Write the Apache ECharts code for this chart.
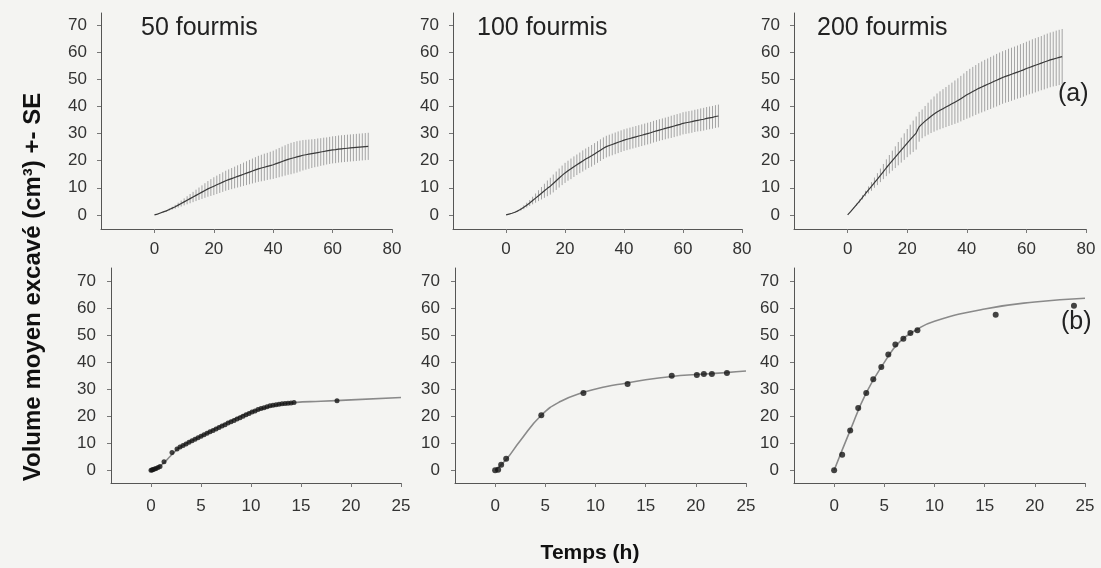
<!DOCTYPE html>
<html>
<head>
<meta charset="UTF-8">
<title>Volume excavé</title>
<script src="https://cdn.jsdelivr.net/npm/echarts@6/dist/echarts.min.js"></script>
<style>
html,body{margin:0;padding:0;background:#f4f4f2;}
#chart{width:1101px;height:568px;}
</style>
</head>
<body>
<div id="chart"></div>
<script type="text/javascript">
// panneaux du haut : moyenne +- SE, une valeur par heure
var hours = [0,1,2,3,4,5,6,7,8,9,10,11,12,13,14,15,16,17,18,19,20,21,22,23,24,25,26,27,28,29,30,31,32,33,34,35,36,37,38,39,40,41,42,43,44,45,46,47,48,49,50,51,52,53,54,55,56,57,58,59,60,61,62,63,64,65,66,67,68,69,70,71,72];

var mean50 = [0,0.3,0.7,1.1,1.5,2.0,2.5,3.0,3.6,4.2,4.8,5.4,6.0,6.6,7.2,7.8,8.4,9.0,9.6,10.1,10.6,11.1,11.6,12.1,12.6,13.0,13.4,13.8,14.2,14.6,15.0,15.4,15.8,16.2,16.6,17.0,17.3,17.6,17.9,18.2,18.5,18.9,19.3,19.7,20.1,20.5,20.8,21.1,21.4,21.7,22.0,22.2,22.4,22.6,22.8,23.0,23.2,23.4,23.6,23.8,24.0,24.1,24.3,24.4,24.5,24.6,24.7,24.8,24.9,25.0,25.1,25.2,25.3];
var se50 = [0,0,0.1,0.2,0.3,0.4,0.5,0.7,0.9,1.1,1.3,1.5,1.7,1.9,2.1,2.3,2.5,2.7,2.9,3.1,3.3,3.4,3.5,3.6,3.7,3.8,3.9,4.0,4.1,4.2,4.3,4.4,4.5,4.6,4.7,4.8,4.9,5.0,5.0,5.1,5.2,5.3,5.4,5.5,5.6,5.7,5.8,5.8,5.8,5.7,5.6,5.5,5.4,5.3,5.2,5.2,5.1,5.1,5.0,5.0,5.0,5.0,5.0,5.0,5.0,5.0,5.0,5.0,5.0,5.0,5.0,5.0,5.0];

var mean100 = [0,0.3,0.6,1.0,1.5,2.1,2.8,3.6,4.4,5.3,6.2,7.1,8.0,8.9,9.8,10.6,11.6,12.6,13.6,14.6,15.5,16.3,17.0,17.8,18.5,19.2,19.9,20.6,21.2,21.8,22.5,23.2,23.9,24.6,25.2,25.6,26.0,26.4,26.8,27.2,27.6,27.9,28.2,28.5,28.8,29.1,29.4,29.7,30.0,30.3,30.7,31.0,31.3,31.6,31.9,32.2,32.5,32.8,33.1,33.4,33.8,34.0,34.2,34.4,34.7,34.9,35.1,35.3,35.6,35.8,36.0,36.3,36.5];
var se100 = [0,0,0.1,0.2,0.3,0.5,0.7,0.9,1.1,1.4,1.7,2.0,2.3,2.6,2.9,3.1,3.3,3.4,3.5,3.6,3.7,3.7,3.8,3.8,3.8,3.8,3.9,3.9,3.9,4.0,4.0,4.0,4.0,4.0,4.0,4.0,4.0,4.0,4.0,4.0,4.0,4.0,4.0,4.0,4.0,4.0,4.0,4.0,4.0,4.0,4.0,4.0,4.0,4.0,4.0,4.0,4.1,4.1,4.1,4.1,4.1,4.1,4.1,4.1,4.1,4.1,4.2,4.2,4.2,4.2,4.2,4.2,4.2];

var mean200 = [0,1.2,2.5,3.8,5.1,6.5,7.9,9.2,10.5,11.9,13.2,14.6,16.0,17.4,18.7,20.0,21.3,22.6,23.9,25.2,26.5,27.8,29.0,30.2,32.5,33.6,34.6,35.5,36.4,37.2,38.0,38.6,39.2,39.8,40.4,41.0,41.6,42.2,42.9,43.6,44.3,44.9,45.5,46.1,46.7,47.2,47.7,48.2,48.7,49.2,49.7,50.2,50.7,51.1,51.5,51.9,52.3,52.7,53.1,53.5,54.0,54.4,54.8,55.2,55.6,56.0,56.4,56.8,57.2,57.5,57.8,58.1,58.4];
var se200 = [0,0.1,0.2,0.4,0.6,0.8,1.0,1.3,1.6,1.9,2.2,2.5,2.8,3.1,3.4,3.7,4.0,4.3,4.6,4.9,5.2,5.5,5.8,6.1,5.5,5.3,5.6,5.9,6.2,6.5,6.8,7.0,7.2,7.4,7.6,7.8,8.0,8.2,8.4,8.6,8.8,9.0,9.1,9.2,9.3,9.4,9.5,9.5,9.6,9.6,9.7,9.7,9.7,9.7,9.8,9.8,9.8,9.8,9.9,9.9,9.9,9.9,10.0,10.0,10.0,10.0,10.1,10.1,10.1,10.1,10.2,10.2,10.2];

// panneaux du bas : points observés (h, cm3) et courbe ajustée
var pts50 = [[0,0],[0.1,0.1],[0.2,0.3],[0.35,0.5],[0.5,0.7],[0.7,1.0],[0.9,1.4],[1.3,3.2],[2.1,6.6],[2.6,7.9],[2.9,8.6],[3.2,9.2],[3.5,9.8],[3.8,10.4],[4.1,11.0],[4.4,11.5],[4.7,12.1],[5.0,12.6],[5.3,13.2],[5.6,13.7],[5.9,14.3],[6.2,14.8],[6.5,15.3],[6.8,15.9],[7.1,16.4],[7.4,16.9],[7.7,17.5],[8.0,18.0],[8.3,18.5],[8.6,19.0],[8.9,19.5],[9.2,20.0],[9.5,20.6],[9.8,21.1],[10.1,21.6],[10.4,22.0],[10.7,22.5],[11.0,22.9],[11.3,23.2],[11.6,23.6],[11.9,23.9],[12.2,24.1],[12.5,24.3],[12.8,24.5],[13.1,24.7],[13.4,24.8],[13.7,24.9],[14.0,25.0],[14.3,25.1],[18.6,25.8]];
var fit50 = [[0,0],[1,1.8],[2,5.5],[3,8.8],[5,12.6],[7.5,17.4],[10,21.6],[12.5,24.2],[14.3,25.1],[17,25.6],[20,26.1],[25,27.0]];

var pts100 = [[0,0],[0.3,0.2],[0.6,2.1],[1.1,4.3],[4.6,20.4],[8.8,28.7],[13.2,32.0],[17.6,35.1],[20.1,35.3],[20.8,35.7],[21.6,35.7],[23.1,36.1]];
var fit100 = [[0,0],[1.1,4.0],[2.5,11.0],[4.6,20.4],[6.5,25.5],[8.8,28.9],[11,31.0],[13,32.3],[15,33.6],[17.6,34.8],[20,35.5],[23,36.2],[25,36.8]];

var pts200 = [[0,0],[0.8,5.8],[1.6,14.8],[2.4,23.1],[3.2,28.7],[3.9,33.8],[4.7,38.3],[5.4,42.9],[6.1,46.6],[6.9,48.8],[7.6,50.9],[8.3,51.9],[16.1,57.7],[23.9,61.0]];
var fit200 = [[0,0],[1.6,14.8],[3.2,28.7],[5,40.0],[6.5,47.5],[8.3,52.3],[10,55.3],[15,59.8],[20,62.4],[25,63.8]];

var topTitles = ['50 fourmis', '100 fourmis', '200 fourmis'];
var yTicks = [0,10,20,30,40,50,60,70];
var xTicksTop = [0,20,40,60,80];
var xTicksBottom = [0,5,10,15,20,25];

var myChart = echarts.init(document.getElementById('chart'));

var grids = [
    {left: 101, top: 13, width: 291, height: 216},
    {left: 453, top: 13, width: 289, height: 216},
    {left: 794, top: 13, width: 292, height: 216},
    {left: 111, top: 268, width: 290, height: 215},
    {left: 455, top: 268, width: 291, height: 215},
    {left: 794, top: 268, width: 291, height: 215}
];

var axisFont = {fontFamily: 'Liberation Sans', fontSize: 17, color: '#333'};

function xAx(i) {
    var top = i < 3;
    return {
        type: 'value', gridIndex: i,
        min: top ? -18 : -4, max: top ? 80 : 25,
        axisLine: {onZero: false, lineStyle: {color: '#555', width: 1}},
        axisTick: {show: true, length: 4, lineStyle: {color: '#777'}, customValues: top ? xTicksTop : xTicksBottom},
        axisLabel: Object.assign({margin: top ? 12 : 15, customValues: top ? xTicksTop : xTicksBottom}, axisFont),
        splitLine: {show: false}
    };
}
function yAx(i) {
    var top = i < 3;
    return {
        type: 'value', gridIndex: i,
        min: top ? -5.2 : -4.7, max: top ? 74.5 : 75,
        axisLine: {onZero: false, lineStyle: {color: '#555', width: 1}},
        axisTick: {show: true, length: 4, lineStyle: {color: '#777'}, customValues: yTicks},
        axisLabel: Object.assign({margin: top ? 14 : 15, customValues: yTicks}, axisFont),
        splitLine: {show: false}
    };
}

function errBars(i, mean, se) {
    var data = [];
    for (var k = 0; k < hours.length; k++) {
        data.push([hours[k], mean[k] - se[k], mean[k] + se[k]]);
    }
    return {
        type: 'custom', xAxisIndex: i, yAxisIndex: i, silent: true,
        data: data,
        encode: {x: 0, y: [1, 2]},
        renderItem: function (params, api) {
            var a = api.coord([api.value(0), api.value(1)]);
            var b = api.coord([api.value(0), api.value(2)]);
            return {type: 'line', shape: {x1: a[0], y1: a[1], x2: b[0], y2: b[1]},
                style: {stroke: '#a4a4a4', lineWidth: 1}};
        }
    };
}
function meanLine(i, mean) {
    var data = [];
    for (var k = 0; k < hours.length; k++) data.push([hours[k], mean[k]]);
    return {type: 'line', xAxisIndex: i, yAxisIndex: i, data: data, showSymbol: false, z: 5,
        lineStyle: {color: '#3a3a3a', width: 1.2}};
}
function fitLine(i, d) {
    return {type: 'line', xAxisIndex: i, yAxisIndex: i, data: d, smooth: true, showSymbol: false,
        lineStyle: {color: '#8a8a8a', width: 1.6}};
}
function points(i, d, size) {
    return {type: 'scatter', xAxisIndex: i, yAxisIndex: i, data: d, symbolSize: size, z: 6,
        itemStyle: {color: '#151515'}};
}

var titleFont = {fontFamily: 'Liberation Sans', fontSize: 25, fontWeight: 'normal', color: '#222'};
var titles = [
    {text: topTitles[0], left: 141, top: 16, padding: 0, textStyle: titleFont},
    {text: topTitles[1], left: 477, top: 16, padding: 0, textStyle: titleFont},
    {text: topTitles[2], left: 817, top: 16, padding: 0, textStyle: titleFont},
    {text: '(a)', left: 1058, top: 82, padding: 0, textStyle: titleFont},
    {text: '(b)', left: 1061, top: 310, padding: 0, textStyle: titleFont},
    {text: 'Temps (h)', left: 590, top: 543, padding: 0, textAlign: 'center',
        textStyle: {fontFamily: 'Liberation Sans', fontSize: 21, fontWeight: 'bold', color: '#111'}}
];

option = {
    backgroundColor: '#f4f4f2',
    animation: false,
    title: titles,
    grid: grids,
    xAxis: [0,1,2,3,4,5].map(xAx),
    yAxis: [0,1,2,3,4,5].map(yAx),
    graphic: [{
        type: 'text', x: 33, y: 287, rotation: Math.PI / 2,
        style: {text: 'Volume moyen excavé (cm³) +- SE', x: 0, y: 0, align: 'center', verticalAlign: 'middle',
            font: 'bold 24px "Liberation Sans"', fill: '#111'}
    }],
    series: [
        errBars(0, mean50, se50), meanLine(0, mean50),
        errBars(1, mean100, se100), meanLine(1, mean100),
        errBars(2, mean200, se200), meanLine(2, mean200),
        fitLine(3, fit50), points(3, pts50, 5),
        fitLine(4, fit100), points(4, pts100, 6),
        fitLine(5, fit200), points(5, pts200, 6)
    ]
};
myChart.setOption(option);
</script>
</body>
</html>
